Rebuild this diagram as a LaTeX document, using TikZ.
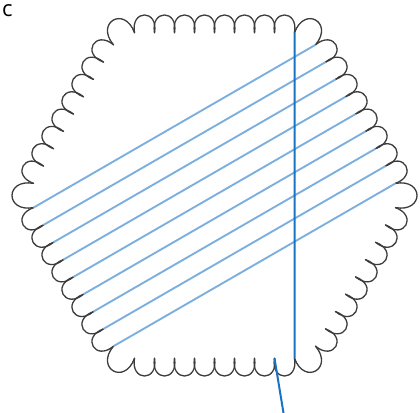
\documentclass[tikz,border=0pt]{standalone}
\usepackage{fontspec}
\setsansfont{Open Sans}
\usepackage{tikz}
\usetikzlibrary{calc}
\definecolor{rimgray}{RGB}{60,60,60}
\definecolor{strandblue}{RGB}{125,175,222}
\definecolor{threadblue}{RGB}{25,115,195}
\tikzset{
  rim/.style={draw=rimgray,line width=1.3pt,line cap=round},
  strand/.style={strandblue,line width=1.9pt},
  thread/.style={threadblue,line width=2pt},
  lbl/.style={font=\sffamily\fontsize{22}{22}\selectfont,inner sep=0pt},
}

\begin{document}
\begin{tikzpicture}[x=1pt,y=1pt]
  \useasboundingbox (0,0) rectangle (420,412);
  % hexagon corners
  \foreach \k in {0,...,5}
    \coordinate (v\k) at ({214.5+188*cos(60*\k)},{216.5+188*sin(60*\k)});
  % cusps, nine per side
  \foreach \k in {0,...,5}{
    \pgfmathtruncatemacro\kn{mod(\k+1,6)}
    \foreach \j in {0,...,8}{
      \pgfmathtruncatemacro\m{9*\k+\j}
      \coordinate (c\m) at ($(v\k)!{(14+20*\j)/188}!(v\kn)$);
    }
  }
  % scalloped rim
  \foreach \m in {0,...,53}{
    \pgfmathtruncatemacro\nx{mod(\m+1,54)}
    \draw[rim] (c\m) .. controls ($(c\m)!1.2!-100:(c\nx)$)
      and ($(c\nx)!1.2!100:(c\m)$) .. (c\nx);
  }
  % strands
  \foreach \j in {0,...,8}{
    \pgfmathtruncatemacro\a{27+\j}
    \pgfmathtruncatemacro\b{8-\j}
    \draw[strand] (c\a) -- (c\b);
  }
  % thread
  \coordinate (tail) at (284,-4);
  \draw[thread] (c9) -- (c44);
  \draw[thread] (c43) -- (tail);
  \node[lbl,anchor=north west] (panel) at (2,408) {c};
\end{tikzpicture}
\end{document}
